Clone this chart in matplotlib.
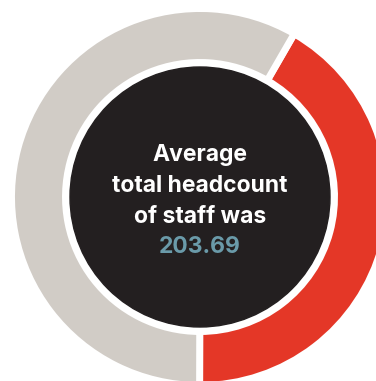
import matplotlib.pyplot as plt
from matplotlib.patches import Circle

plt.rcParams['font.family'] = ['Inter', 'DejaVu Sans']

# share of the ring (red part first, then grey remainder)
shares = [41.7, 58.3]
ring_colors = ['#E43727', '#D1CCC6']
caption = ['Average', 'total headcount', 'of staff was']
headcount = '203.69'

fig = plt.figure(figsize=(3.76, 3.81), dpi=100)
ax = fig.add_axes([0, 0, 1, 1])

cx, cy = 200, 184
ax.pie(shares, colors=ring_colors, center=(cx, cy), radius=188.5,
       startangle=60, counterclock=False,
       wedgeprops=dict(width=54, edgecolor='white', linewidth=5))

ax.add_patch(Circle((cx, cy), 130, color='#231F20', zorder=3))

ys = [226, 195, 164]
for y, line in zip(ys, caption):
    ax.text(cx, y, line, color='white', fontsize=16.5, fontweight='bold',
            ha='center', va='center', zorder=4)
ax.text(cx, 134, headcount, color='#6A9AA9', fontsize=16.5,
        fontweight='bold', ha='center', va='center', zorder=4)

ax.set_xlim(0, 376)
ax.set_ylim(0, 381)
ax.set_aspect('equal')
ax.axis('off')

plt.savefig('out.png', dpi=100)
